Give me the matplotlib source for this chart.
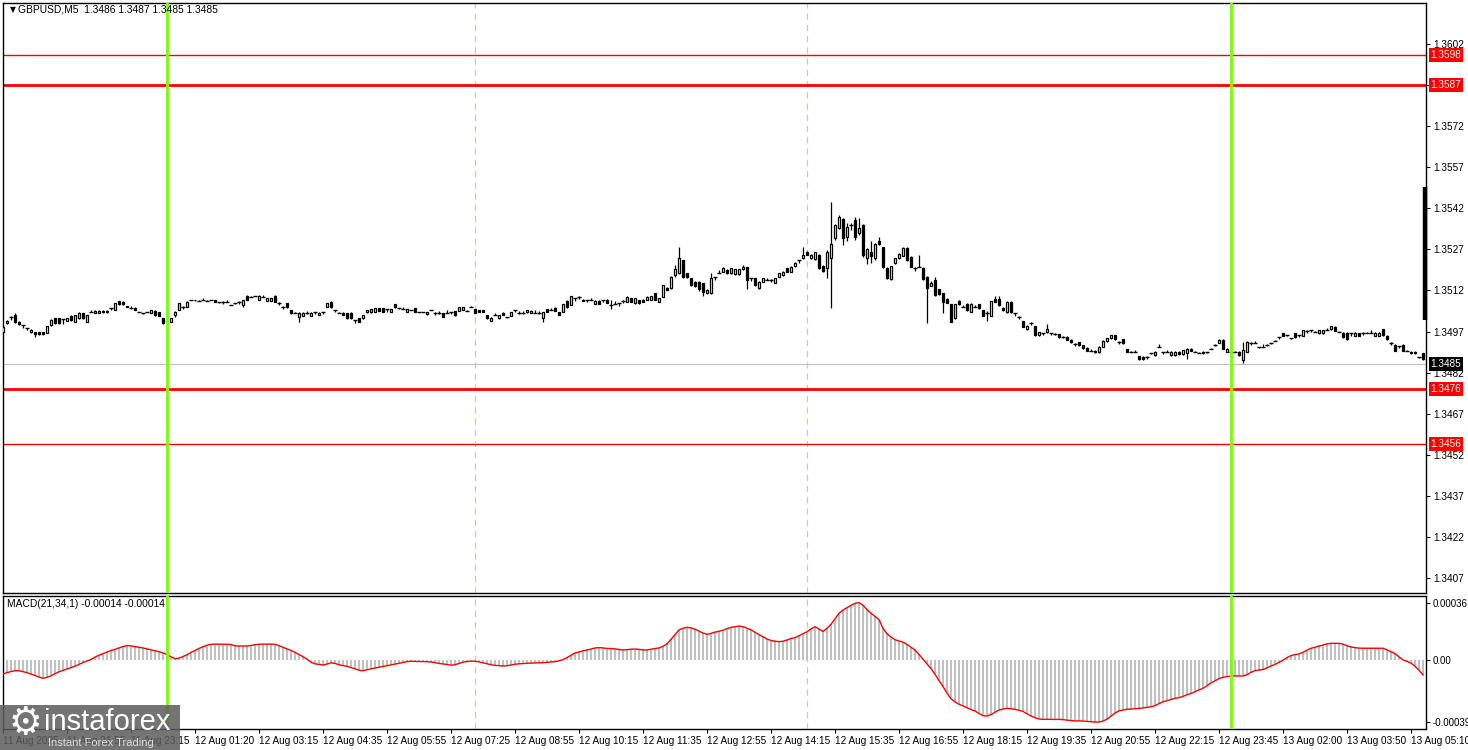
import numpy as np
import matplotlib.pyplot as plt
import matplotlib.transforms as mtransforms
from matplotlib.patches import Rectangle

plt.rcParams['font.family'] = ['Liberation Sans', 'DejaVu Sans']

# GBPUSD M5 candles; prices given in pips above 1.3400
BASE = 1.3400

opens = [
    96.9, 100.0, 102.4, 103.0, 100.6, 99.4, 98.2, 96.7, 96.7, 96.7,
    96.9, 96.6, 99.4, 101.8, 101.8, 101.4, 101.0, 102.8, 100.6, 101.8,
    103.6, 100.6, 104.2, 103.9, 103.9, 104.0, 104.0, 105.5, 104.9, 108.1,
    107.9, 106.2, 105.5, 105.7, 104.2, 103.6, 104.2, 103.9, 104.6, 104.2,
    101.8, 100.9, 100.6, 103.0, 104.9, 106.1, 106.1, 108.5, 108.5, 108.3,
    108.5, 108.3, 108.5, 108.5, 107.7, 107.9, 107.9, 106.7, 107.3, 107.9,
    106.7, 110.0, 109.7, 110.0, 108.5, 109.7, 108.3, 108.3, 110.0, 107.6,
    106.1, 107.3, 104.9, 103.9, 102.4, 102.7, 103.6, 102.7, 104.2, 103.0,
    104.2, 106.1, 107.9, 104.9, 103.9, 103.9, 103.6, 103.9, 101.2, 101.8,
    101.8, 104.0, 104.0, 104.2, 105.5, 105.5, 105.1, 104.2, 107.0, 105.5,
    105.2, 104.2, 104.9, 105.5, 104.2, 104.2, 103.3, 104.9, 103.9, 103.6,
    103.6, 103.9, 104.2, 104.5, 104.6, 104.9, 104.6, 106.1, 105.1,
    104.85, 104.85, 102.9, 101.0, 103.0, 101.8, 103.9, 102.2, 102.7, 104.85,
    103.6, 103.6, 104.0, 103.9, 103.9, 103.6, 101.8, 105.1, 104.85, 105.7,
    104.2, 104.2, 108.3, 106.7, 109.1, 109.7, 108.7, 108.5, 108.5, 107.0,
    108.3, 108.5, 108.7, 106.7, 107.0, 107.3, 108.3, 107.9, 109.1, 107.3,
    108.5, 108.7, 108.5, 108.7, 110.9, 107.9, 109.7, 113.0, 112.8, 117.6,
    118.2, 123.1, 118.2, 116.4, 115.2, 115.2, 114.6, 110.9, 110.9, 117.0,
    118.5, 118.8, 119.5, 118.2, 118.0, 118.0, 119.7, 120.4, 116.4, 116.4,
    112.8, 115.2, 115.8, 116.0, 114.8, 117.0, 117.6, 120.1, 118.8, 120.9,
    123.1, 123.7, 126.2,
    123.7, 123.5, 124.9, 121.0, 120.1, 123.7, 131.0, 134.9, 138.1, 131.6,
    135.9, 137.7, 132.9, 135.9, 123.7, 125.9, 123.7, 130.0, 127.7, 120.3,
    116.2, 121.9, 123.7, 124.7, 127.6, 124.3, 120.3, 120.7, 120.3, 117.0,
    113.7, 115.8, 112.5, 110.9, 108.9, 106.9, 101.8, 108.1, 106.0, 106.9,
    104.2, 106.0, 106.9, 104.8, 103.6, 102.8, 108.9, 108.9, 105.7, 104.0,
    107.9, 103.6, 102.4, 100.8, 97.9, 100.3, 99.0, 95.7, 96.3, 96.7, 96.3,
    96.0, 96.0, 95.0, 95.0, 94.0, 92.5, 93.0, 92.0, 91.0, 90.0, 90.0, 89.5, 91.5, 93.5,
    94.5, 95.7, 93.3, 94.1, 90.5, 89.6, 89.6, 88.0, 87.8, 87.8,
    89.0, 88.4, 91.5, 89.6, 89.6, 88.4, 88.4, 89.6, 88.8, 89.0,
    90.8, 89.6, 89.3, 89.6, 89.6, 90.8, 92.1, 92.9, 93.9, 89.6,
    89.6, 89.6, 89.6, 86.6, 89.6, 92.9, 92.9, 91.2, 91.5, 92.1,
    92.7, 93.6, 94.9, 96.3, 95.7, 94.5, 96.3, 95.7, 95.4, 97.3,
    97.5, 96.9, 96.3, 96.3, 97.5, 97.8, 98.8, 96.9, 96.6, 96.6,
    96.3, 95.4, 96.3, 96.6, 96.6, 96.6, 95.4, 95.4, 97.8, 95.4,
    92.9, 92.1, 91.7, 92.1, 90.0, 89.6, 89.6, 87.6, 89.0,
]

closes = [
    98.8, 101.0, 102.4, 100.6, 99.7, 99.4, 98.2, 97.6, 96.1, 96.1,
    96.1, 99.0, 101.2, 100.2, 100.0, 101.4, 101.8, 101.2, 103.0, 103.9,
    101.8, 103.0, 104.2, 104.6, 104.6, 104.6, 104.6, 105.5, 107.3, 106.9,
    106.9, 106.1, 105.5, 104.9, 104.2, 103.6, 104.2, 104.9, 103.0, 102.7,
    100.0, 100.7, 101.8, 104.2, 107.3, 106.1, 107.9, 108.5, 108.4, 108.3,
    108.5, 108.3, 108.5, 107.9, 107.7, 107.9, 107.9, 106.7, 107.3, 107.9,
    108.5, 108.5, 109.7, 110.0, 110.0, 109.7, 109.1, 109.1, 107.9, 107.6,
    106.1, 105.8, 103.6, 103.9, 103.9, 103.9, 103.6, 103.9, 104.2, 103.9,
    104.2, 107.3, 105.8, 104.9, 103.9, 103.0, 101.8, 101.8, 101.2, 100.6,
    103.0, 104.9, 105.1, 105.5, 104.5, 104.2, 105.1, 105.2, 105.8, 105.5,
    105.2, 105.2, 104.9, 104.2, 104.2, 104.2, 104.2, 104.9, 103.9, 103.6,
    102.4, 103.9, 104.2, 103.0, 105.8, 105.8, 104.6, 106.1, 103.9,
    104.1, 104.1, 101.8, 102.1, 103.0, 103.0, 103.0, 102.2, 104.2, 104.85,
    103.6, 103.6, 104.85, 104.6, 103.9, 103.6, 104.2, 104.1, 104.85, 104.5,
    103.0, 107.0, 105.8, 110.0, 109.1, 109.7, 108.1, 108.5, 108.5, 108.3,
    107.0, 108.5, 107.5, 106.7, 107.0, 107.3, 108.3, 109.7, 107.9, 109.1,
    107.3, 107.9, 109.7, 110.0, 108.5, 109.1, 113.9, 112.2, 117.0, 119.7,
    123.7, 117.0, 116.8, 114.0, 113.6, 112.4, 111.5, 112.2, 116.4, 117.0,
    118.5, 120.1, 118.2, 120.1, 119.7, 119.7, 120.7, 116.0, 116.4, 114.0,
    115.2, 116.4, 115.8, 116.0, 116.4, 118.2, 118.8, 118.8, 120.7, 122.1,
    123.1, 124.9, 125.0,
    124.9, 125.9, 120.1, 119.1, 125.9, 128.8, 135.9, 138.9, 131.0, 135.3,
    135.9, 131.6, 135.0, 124.9, 127.1, 124.7, 128.8, 128.8, 120.7, 116.6,
    120.9, 123.7, 125.5, 127.6, 123.1, 120.7, 120.3, 120.7, 116.2, 112.8,
    114.9, 110.3, 110.6, 107.9, 107.6, 100.6, 106.9, 106.9, 106.0, 104.8,
    106.9, 106.0, 105.5, 102.8, 103.6, 108.1, 107.9, 106.7, 104.8, 107.9,
    104.0, 103.6, 102.4, 98.8, 99.1, 100.3, 95.7, 96.7, 96.3, 97.9, 96.3,
    96.0, 95.0, 95.0, 94.0, 93.0, 92.5, 92.0, 91.0, 90.0, 90.0, 89.5, 91.5, 93.5, 94.5,
    95.7, 94.1, 93.3, 92.7, 89.6, 89.6, 89.6, 86.8, 86.8, 87.8,
    89.0, 89.6, 91.5, 89.6, 89.6, 89.6, 89.6, 88.8, 90.2, 90.8,
    90.0, 89.6, 89.3, 89.0, 89.6, 90.8, 92.1, 93.9, 90.8, 90.8,
    89.6, 89.6, 88.4, 90.2, 93.3, 92.9, 92.9, 91.2, 91.5, 92.1,
    92.7, 93.6, 94.9, 95.4, 95.7, 94.5, 94.9, 95.7, 97.5, 97.3,
    97.5, 96.9, 97.5, 97.5, 97.5, 99.0, 97.3, 96.9, 94.9, 94.1,
    96.3, 96.6, 95.4, 96.6, 96.6, 96.6, 96.6, 96.6, 95.7, 94.1,
    92.9, 90.0, 91.7, 90.0, 90.0, 89.0, 89.0, 87.6, 86.8,
]

# wick lengths above / below the body, pips
wick_up = [
    0.4, 0.3, 0.1, 0.6, 0.4, 0.1, 0.1, 0.2, 0.2, 0.1,
    0.1, 0.2, 0.2, 0.2, 0.3, 0.2, 0.2, 0.2, 0.2, 0.2,
    0.2, 0.2, 0.8, 0.2, 0.1, 0.1, 0.1, 0.2, 0.2, 0.2,
    0.1, 0.1, 0.7, 0.1, 0.1, 0.1, 0.1, 0.1, 0.1, 0.1,
    0.2, 0.1, 0.2, 0.2, 0.2, 0.1, 0.2, 0.1, 0.1, 0.1,
    0.7, 0.1, 0.1, 0.1, 0.1, 0.1, 0.7, 0.1, 0.1, 0.1,
    0.2, 0.2, 0.1, 0.1, 0.2, 0.7, 0.1, 0.1, 0.2, 0.1,
    0.1, 0.1, 0.1, 0.1, 0.1, 0.1, 0.8, 0.1, 0.1, 0.1,
    0.1, 0.2, 0.2, 0.1, 0.1, 0.1, 0.1, 0.1, 0.1, 0.1,
    0.1, 0.1, 0.1, 0.1, 0.1, 0.1, 0.1, 0.1, 0.2, 0.1,
    0.7, 0.1, 0.1, 0.1, 0.1, 0.1, 0.1, 0.1, 0.1, 0.8,
    0.1, 0.8, 0.1, 0.1, 0.1, 0.1, 0.1, 0.1, 0.1,
    0.1, 0.1, 0.1, 0.1, 0.7, 0.1, 0.1, 0.1, 0.1, 0.1,
    0.8, 0.8, 0.1, 0.1, 0.8, 0.8, 0.1, 0.1, 0.8, 0.1,
    0.1, 0.1, 0.1, 0.1, 0.1, 0.1, 0.1, 0.1, 0.8, 0.1,
    0.1, 0.1, 0.1, 1.8, 1.2, 0.1, 0.1, 0.1, 0.1, 0.1,
    0.1, 0.1, 0.1, 0.1, 0.1, 0.1, 0.1, 0.2, 0.2, 1.6,
    4.3, 0.2, 0.2, 0.2, 0.2, 0.2, 0.2, 0.2, 2.0, 0.1,
    1.0, 0.5, 0.2, 0.2, 0.2, 0.2, 0.5, 0.2, 0.1, 0.2,
    0.2, 0.2, 0.8, 0.1, 0.2, 0.2, 0.2, 0.2, 0.2, 0.3,
    0.1, 3.0, 0.3,
    0.3, 0.3, 0.3, 0.2, 0.9, 15.4, 0.5, 0.5, 0.5, 1.2,
    0.6, 1.0, 3.5, 0.2, 0.3, 4.2, 0.5, 1.6, 0.2, 0.2,
    0.2, 0.2, 0.2, 0.2, 0.2, 0.2, 0.1, 4.3, 0.2, 0.2,
    0.5, 1.0, 0.2, 0.2, 0.2, 0.2, 0.2, 0.5, 0.8, 0.5,
    0.5, 0.8, 0.2, 0.2, 0.8, 0.2, 1.0, 1.0, 0.2, 0.2,
    0.2, 0.1, 0.1, 0.2, 0.2, 0.1, 0.2, 0.2, 0.1, 1.9, 0.1,
    0.3, 0.2, 0.3, 0.2, 0.2, 0.2, 0.2, 0.2, 0.2, 0.6, 0.2, 0.2, 0.5, 0.2,
    0.2, 0.2, 0.1, 0.2, 0.2, 0.2, 0.8, 0.2, 0.2, 0.1,
    0.2, 0.2, 1.0, 0.1, 0.8, 0.2, 0.2, 0.2, 0.2, 0.2,
    0.2, 0.2, 0.2, 0.2, 0.1, 0.2, 0.2, 0.2, 0.2, 0.2,
    0.2, 0.2, 0.2, 3.1, 0.2, 0.1, 0.8, 0.2, 0.8, 0.2,
    0.2, 0.2, 0.1, 0.2, 0.2, 0.2, 0.2, 0.1, 0.2, 0.1,
    0.1, 0.2, 0.2, 0.2, 0.8, 0.2, 0.2, 0.2, 0.2, 0.2,
    0.1, 0.2, 0.2, 0.1, 0.2, 0.8, 0.2, 0.2, 0.2, 0.2,
    0.1, 0.2, 0.1, 0.2, 0.2, 0.2, 0.2, 0.2, 0.2,
]

wick_dn = [
    0.4, 0.3, 1.1, 0.3, 0.3, 1.0, 0.7, 0.4, 1.2, 0.2,
    0.2, 0.2, 0.2, 0.3, 0.2, 1.6, 0.2, 0.2, 0.2, 0.2,
    0.2, 0.2, 0.2, 0.1, 0.1, 0.1, 0.1, 0.7, 0.2, 0.2,
    0.2, 0.1, 0.1, 0.1, 0.1, 0.1, 0.1, 0.1, 0.2, 0.1,
    0.2, 0.1, 0.2, 0.6, 0.2, 1.0, 0.1, 0.1, 0.1, 0.1,
    0.1, 0.1, 0.1, 0.1, 0.1, 0.8, 0.1, 0.1, 0.1, 0.8,
    0.9, 0.1, 0.1, 0.1, 0.1, 0.1, 0.1, 0.1, 0.1, 0.8,
    0.8, 0.2, 0.2, 0.1, 1.8, 0.2, 0.1, 0.1, 0.8, 0.1,
    0.7, 0.2, 0.2, 0.8, 0.1, 0.1, 0.2, 0.2, 1.2, 0.2,
    0.1, 0.1, 0.1, 0.1, 0.1, 0.1, 0.8, 0.1, 0.1, 0.1,
    0.1, 0.1, 0.1, 0.1, 0.1, 0.1, 0.1, 0.1, 0.8, 0.1,
    0.2, 0.1, 0.8, 0.2, 0.1, 0.1, 0.1, 0.1, 0.1,
    0.1, 0.1, 0.2, 0.1, 0.1, 0.1, 0.1, 0.1, 0.1, 0.8,
    0.1, 0.1, 0.1, 0.1, 0.1, 0.1, 1.2, 0.1, 0.1, 0.1,
    0.1, 0.1, 0.1, 0.1, 0.8, 0.8, 0.1, 0.8, 0.1, 0.1,
    0.1, 0.8, 0.1, 1.5, 0.1, 1.0, 0.8, 0.1, 0.1, 0.1,
    0.1, 0.1, 0.1, 0.1, 0.1, 0.2, 0.1, 0.2, 0.2, 0.5,
    0.2, 0.5, 0.2, 0.2, 0.2, 0.5, 1.6, 0.2, 0.2, 1.0,
    0.1, 0.2, 0.2, 0.2, 0.2, 0.2, 0.2, 3.4, 1.0, 0.2,
    0.2, 0.2, 0.1, 0.8, 0.2, 0.2, 0.2, 0.2, 0.2, 0.2,
    1.2, 0.2, 0.2,
    0.2, 0.2, 0.2, 0.2, 3.7, 18.0, 0.5, 0.5, 2.3, 1.5,
    1.8, 1.0, 0.7, 0.5, 1.9, 2.8, 0.5, 0.2, 0.4, 0.5,
    0.5, 0.2, 0.2, 0.2, 0.2, 0.2, 1.2, 0.1, 0.2, 12.5,
    0.2, 0.2, 0.2, 4.3, 0.2, 0.2, 0.2, 0.2, 0.1, 0.2,
    0.2, 0.1, 0.2, 0.2, 2.8, 0.2, 0.2, 0.2, 0.2, 0.2,
    0.2, 1.0, 1.0, 0.2, 0.2, 1.0, 0.2, 0.2, 0.6, 0.2, 0.6,
    0.3, 0.2, 0.3, 0.2, 0.2, 0.6, 0.2, 0.2, 0.2, 0.2, 0.2, 0.2, 0.2, 0.2,
    0.2, 0.2, 0.8, 0.2, 0.2, 0.2, 0.1, 0.2, 0.2, 0.8,
    0.2, 0.2, 0.1, 0.8, 0.1, 0.2, 0.2, 0.2, 0.2, 2.2,
    0.2, 0.2, 0.2, 0.2, 0.6, 0.2, 0.2, 0.2, 0.2, 0.2,
    0.2, 0.2, 0.2, 1.0, 0.2, 0.8, 0.1, 0.2, 0.1, 0.2,
    0.2, 0.2, 0.8, 0.2, 0.2, 0.2, 0.2, 0.8, 0.2, 0.8,
    0.8, 0.2, 0.2, 0.2, 0.1, 0.2, 0.2, 0.2, 0.2, 0.2,
    0.8, 0.2, 0.2, 0.8, 0.2, 0.1, 0.2, 0.2, 0.2, 0.2,
    0.8, 0.2, 0.8, 0.2, 0.2, 0.2, 0.2, 0.2, 0.2,
]

# MACD(21,34,1) main line, units of 1e-5
macd = [
    -8.8, -8.0, -7.3, -6.8, -6.8, -7.4, -8.0, -8.9, -9.8, -10.8,
    -11.6, -11.0, -10.0, -8.7, -7.5, -6.6, -5.7, -4.8, -3.9, -2.8,
    -1.6, -0.6, 0.3, 1.8, 3.0, 4.0, 5.0, 6.0, 6.7, 7.6,
    8.5, 9.1, 8.9, 8.4, 8.0, 7.6, 7.0, 6.4, 5.8, 5.2,
    4.4, 3.4, 2.0, 0.8, 1.2, 2.2, 3.3, 4.8, 6.0, 7.3,
    8.3, 9.3, 9.9, 10.0, 10.0, 9.9, 9.9, 9.8, 8.9, 8.8,
    8.8, 8.8, 9.2, 9.6, 9.9, 10.0, 10.0, 10.0, 9.9, 9.0,
    8.0, 7.0, 6.0, 4.8, 3.4, 2.1, 0.5, -1.5, -2.4, -2.9,
    -3.2, -2.6, -1.8, -2.2, -3.0, -3.6, -4.0, -4.8, -5.6, -6.5,
    -6.8, -6.2, -5.6, -5.1, -4.6, -4.1, -3.6, -3.1, -2.6, -2.1,
    -1.6, -1.0, -0.8, -0.9, -1.0, -1.0, -1.1, -1.3, -1.7, -2.2,
    -2.5, -2.9, -3.3, -3.0, -2.2, -1.4, -1.0, -0.7, -0.8, -1.2,
    -1.8, -2.4, -3.0, -3.4, -3.6, -3.8, -3.6, -3.2, -2.7, -2.4,
    -2.3, -2.1, -2.0, -1.9, -1.8, -1.7, -1.5, -1.3, -1.1, -0.5,
    0.2, 1.5, 3.0, 4.4, 5.0, 5.8, 6.3, 6.9, 7.6, 7.8,
    7.6, 7.3, 7.2, 7.0, 6.6, 6.3, 6.5, 6.8, 6.9, 6.7,
    6.4, 6.3, 6.8, 7.2, 7.6, 8.6, 10.2, 13.0, 16.0, 19.0,
    20.0, 20.6, 20.3, 19.4, 18.2, 17.0, 16.2, 16.8, 17.6, 18.1,
    18.8, 19.8, 20.6, 21.0, 21.4, 21.0, 20.0, 19.0, 17.5, 16.0,
    14.6, 13.2, 12.3, 11.8, 11.6, 11.8, 12.6, 13.6, 14.1, 15.3,
    16.6, 17.8, 19.6, 21.0, 19.5, 18.0, 20.0, 22.5, 26.0, 29.5,
    31.5, 33.0, 34.5, 35.8, 36.2, 34.5, 31.8, 29.5, 27.5, 25.5,
    20.0, 16.5, 14.5, 12.8, 12.0, 11.3, 9.8, 8.0, 6.3, 3.5,
    0.5, -2.5, -5.5, -9.0, -13.0, -16.8, -21.0, -24.5, -26.5, -28.0,
    -29.0, -30.2, -31.3, -32.2, -33.8, -35.2, -35.4, -34.5, -33.0, -31.6,
    -31.0, -30.6, -30.8, -31.2, -31.8, -32.5, -34.0, -35.4, -36.5, -37.3,
    -37.5, -37.5, -37.5, -37.6, -37.5, -37.7, -38.0, -38.3, -38.5, -38.5,
    -38.6, -38.8, -39.0, -39.2, -39.2, -38.6, -37.4, -35.5, -33.5, -32.2,
    -31.6, -31.1, -31.0, -30.8, -30.6, -30.3, -29.9, -29.6, -28.8, -27.6,
    -26.4, -25.7, -25.0, -24.2, -23.8, -23.0, -22.0, -21.1, -20.0, -18.9,
    -17.9, -16.3, -14.5, -13.2, -11.8, -10.9, -10.5, -10.2, -10.1, -10.1,
    -10.1, -9.3, -7.8, -6.7, -6.4, -6.0, -5.0, -3.8, -2.8, -1.5,
    -0.2, 1.5, 2.8, 3.4, 3.8, 4.8, 6.2, 7.4, 8.0, 8.8,
    9.4, 10.2, 10.5, 10.5, 10.5, 10.0, 9.0, 8.2, 7.8, 7.5,
    7.4, 7.4, 7.4, 7.4, 7.4, 7.4, 6.4, 5.2, 4.0, 2.0,
    0.0, -0.9, -2.0, -4.0, -6.5, -9.5,
]

time_labels = [
    "11 Aug 2025", "11 Aug 21:55", "11 Aug 23:15", "12 Aug 01:20", "12 Aug 03:15",
    "12 Aug 04:35", "12 Aug 05:55", "12 Aug 07:25", "12 Aug 08:55", "12 Aug 10:15",
    "12 Aug 11:35", "12 Aug 12:55", "12 Aug 14:15", "12 Aug 15:35", "12 Aug 16:55",
    "12 Aug 18:15", "12 Aug 19:35", "12 Aug 20:55", "12 Aug 22:15", "12 Aug 23:45",
    "13 Aug 02:00", "13 Aug 03:50", "13 Aug 05:10",
]
price_ticks = [1.3407, 1.3422, 1.3437, 1.3452, 1.3467, 1.3482, 1.3497,
               1.3512, 1.3527, 1.3542, 1.3557, 1.3572, 1.3587, 1.3602]
thin_levels = [1.3598, 1.3456]
thick_levels = [1.3587, 1.3476]
bid_price = 1.3485
green_bars = [42, 308]
dashed_bars = [119, 202]

W, H = 1468, 750


def box(l, t, r, b):
    return [l / W, 1 - b / H, (r - l) / W, (b - t) / H]


def main():
    n = min(len(opens), len(closes), len(wick_up), len(wick_dn))
    o = BASE + np.array(opens[:n]) / 1e4
    c = BASE + np.array(closes[:n]) / 1e4
    hi = np.maximum(o, c) + np.array(wick_up[:n]) / 1e4
    lo = np.minimum(o, c) - np.array(wick_dn[:n]) / 1e4
    x = np.arange(1, n + 1)

    fig = plt.figure(figsize=(W / 100, H / 100), dpi=100)
    ax = fig.add_axes(box(3, 3, 1426, 593))
    axm = fig.add_axes(box(3, 596, 1426, 729))

    # candles
    ax.vlines(x, lo, hi, color="black", lw=0.9, zorder=3)
    bull = c > o + 1e-7
    bear = c < o - 1e-7
    doji = ~(bull | bear)
    ax.bar(x[bull], (c - o)[bull], bottom=o[bull], width=0.55, color="white",
           edgecolor="black", lw=0.9, zorder=4)
    ax.bar(x[bear], (o - c)[bear], bottom=c[bear], width=0.55, color="black",
           edgecolor="black", lw=0.9, zorder=4)
    ax.hlines(c[doji], x[doji] - 0.4, x[doji] + 0.4, color="black", lw=1.0, zorder=4)

    ax.axhline(bid_price, color="#c0c0c0", lw=0.8, zorder=1)
    for lvl in thin_levels:
        ax.axhline(lvl, color="red", lw=1.0, zorder=2)
    for lvl in thick_levels:
        ax.axhline(lvl, color="red", lw=2.0, zorder=2)

    ax.set_xlim(1.0, 356.75)
    ax.set_ylim(1.34015, 1.36170)
    ax.set_xticks([])
    ax.yaxis.tick_right()
    ax.set_yticks(price_ticks)
    # 1.3587 sits under its red level label, so its tick text stays empty
    ax.set_yticklabels(["" if p in thick_levels else f"{p:.4f}" for p in price_ticks])
    ax.tick_params(axis="y", direction="out", length=3, width=0.8, pad=2,
                   labelsize=7.2, colors="black")

    trans = mtransforms.blended_transform_factory(ax.transAxes, ax.transData)
    for lvl in thin_levels + thick_levels:
        ax.text(1.0032, lvl, f"{lvl:.4f}", transform=trans, ha="left", va="center",
                fontsize=7.2, color="white", clip_on=False, zorder=10,
                bbox=dict(boxstyle="square,pad=0.2", fc="red", ec="none"))
    ax.text(1.0032, bid_price, f"{bid_price:.4f}", transform=trans, ha="left",
            va="center", fontsize=7.2, color="white", clip_on=False, zorder=10,
            bbox=dict(boxstyle="square,pad=0.2", fc="black", ec="none"))

    # thick marker on the right border
    ax.plot([0.999, 0.999], [(593 - 187) / 590, (593 - 320) / 590], transform=ax.transAxes,
            color="black", lw=3.2, clip_on=False, solid_capstyle="butt", zorder=6)

    # MACD panel
    m = np.array(macd[:n]) * 1e-5
    axm.bar(x, m, width=0.5, color="#c0c0c0", zorder=2)
    axm.plot(x, m, color="red", lw=1.0, zorder=3)
    axm.set_xlim(1.0, 356.75)
    axm.set_ylim(-43.6e-5, 40.4e-5)
    axm.yaxis.tick_right()
    axm.set_yticks([0.00036, 0.0, -0.00039])
    axm.set_yticklabels(["0.00036", "0.00", "-0.00039"])
    axm.tick_params(axis="y", direction="out", length=3, width=0.8, pad=2,
                    labelsize=7.0, colors="black")
    xt = [1 + 16 * k for k in range(len(time_labels))]
    axm.set_xticks(xt)
    axm.set_xticklabels(time_labels, ha="left")
    axm.tick_params(axis="x", direction="out", length=3, width=0.8, pad=2,
                    labelsize=7.2, colors="black")

    for a in (ax, axm):
        for b in green_bars:
            a.axvline(b, color="#7cfc00", lw=2.0, zorder=5)
        for b in dashed_bars:
            a.axvline(b, color="#b8d8a0", lw=0.9, ls=(0, (5, 4)), zorder=1)
        for s in a.spines.values():
            s.set_color("black")
            s.set_linewidth(1.0)

    # headers
    fig.text(10 / W, 1 - 10 / H, "\u25bc", fontsize=5.5, ha="left", va="center",
             family=["DejaVu Sans"])
    fig.text(18 / W, 1 - 10 / H, "GBPUSD,M5  1.3486 1.3487 1.3485 1.3485",
             fontsize=7.4, ha="left", va="center")
    fig.text(7 / W, 1 - 604 / H, "MACD(21,34,1) -0.00014 -0.00014",
             fontsize=7.4, ha="left", va="center")

    # watermark
    fig.add_artist(Rectangle((0, 0), 180 / W, 45 / H, transform=fig.transFigure,
                             fc="#5c5c5c", ec="none", alpha=0.85, zorder=20))
    fig.text(25 / W, 1 - 724 / H, "\u2699", fontsize=27, color="white", ha="center",
             va="center", family=["DejaVu Sans"], zorder=21)
    fig.text(44 / W, 1 - 722 / H, "instaforex", fontsize=21, color="white",
             ha="left", va="center", zorder=21)
    fig.text(48 / W, 1 - 743 / H, "Instant Forex Trading", fontsize=8,
             color="#dcdcdc", ha="left", va="center", zorder=21)

    fig.savefig("out.png", dpi=100)
    plt.close(fig)


if __name__ == "__main__":
    main()
